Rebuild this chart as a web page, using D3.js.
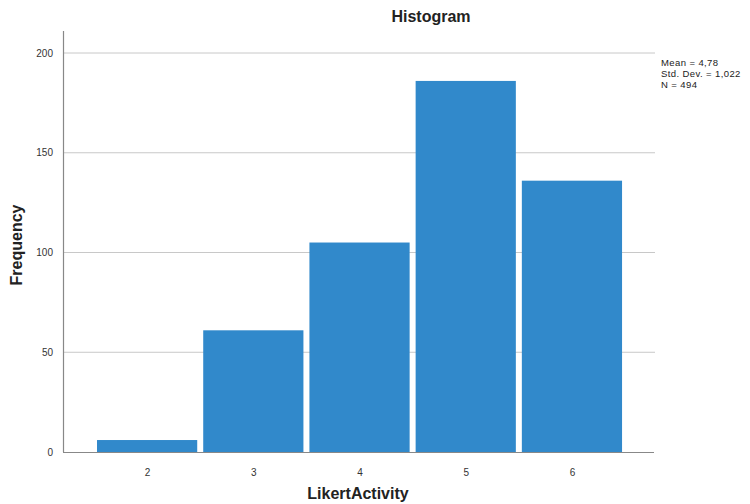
<!DOCTYPE html>
<html><head><meta charset="utf-8">
<script src="https://cdn.jsdelivr.net/npm/d3@7"></script>
<style>body{margin:0;background:#fff}svg{display:block}</style>
</head><body>
<svg id="c" width="750" height="504"></svg>
<script>
const categories = [2, 3, 4, 5, 6];
const frequencies = [6, 61, 105, 186, 136];
const yTicks = [0, 50, 100, 150, 200];
const statsLines = ["Mean = 4,78", "Std. Dev. = 1,022", "N = 494"];
const title = "Histogram";
const xLabel = "LikertActivity";
const yLabel = "Frequency";

const svg = d3.select("#c");
const font = "Arial, 'Liberation Sans', sans-serif";
const x = d3.scaleLinear().domain([1.208, 6.782]).range([63, 655]);
const y = d3.scaleLinear().domain([0, 200]).range([452, 53]);

// gridlines
svg.append("g").selectAll("line").data(yTicks.filter(d => d > 0)).join("line")
  .attr("x1", 63).attr("x2", 655)
  .attr("y1", d => y(d)).attr("y2", d => y(d))
  .attr("stroke", "#c8c8c8").attr("stroke-width", 1);

// bars
const gap = 3;
svg.append("g").selectAll("rect").data(categories).join("rect")
  .attr("x", (d) => x(d - 0.5) + gap)
  .attr("width", (d) => x(d + 0.5) - x(d - 0.5) - 2 * gap)
  .attr("y", (d, i) => y(frequencies[i]))
  .attr("height", (d, i) => y(0) - y(frequencies[i]))
  .attr("fill", "#3189cb");

// axes
const yAxis = d3.axisLeft(y).tickValues(yTicks).tickSize(0).tickPadding(10);
const gy = svg.append("g").attr("transform", "translate(63,0)").call(yAxis);
gy.select(".domain").remove();
gy.selectAll("text").attr("font-family", font).attr("font-size", 10).attr("fill", "#333");
svg.append("line").attr("x1", 63.5).attr("x2", 63.5).attr("y1", 31).attr("y2", 452)
  .attr("stroke", "#888").attr("stroke-width", 1.2);

const xAxis = d3.axisBottom(x).tickValues(categories).tickSize(0).tickPadding(17).tickFormat(d3.format("d"));
const gx = svg.append("g").attr("transform", "translate(0,452)").call(xAxis);
gx.select(".domain").remove();
gx.selectAll("text").attr("font-family", font).attr("font-size", 10).attr("fill", "#333");
svg.append("line").attr("x1", 63).attr("x2", 654).attr("y1", 452.5).attr("y2", 452.5)
  .attr("stroke", "#888").attr("stroke-width", 1.2);

// titles
svg.append("text").attr("x", 431).attr("y", 22).attr("text-anchor", "middle")
  .attr("font-family", font).attr("font-weight", "bold").attr("font-size", 16).attr("fill", "#222").text(title);
svg.append("text").attr("x", 358).attr("y", 499).attr("text-anchor", "middle")
  .attr("font-family", font).attr("font-weight", "bold").attr("font-size", 16).attr("fill", "#222").text(xLabel);
svg.append("text").attr("transform", "translate(22,245) rotate(-90)").attr("text-anchor", "middle")
  .attr("font-family", font).attr("font-weight", "bold").attr("font-size", 16).attr("fill", "#222").text(yLabel);

// stats
svg.append("g").selectAll("text").data(statsLines).join("text")
  .attr("x", 661).attr("y", (d, i) => 66 + i * 11)
  .attr("font-family", font).attr("font-size", 9.5).attr("letter-spacing", 0.4)
  .attr("fill", "#222").text(d => d);
</script>
</body></html>
